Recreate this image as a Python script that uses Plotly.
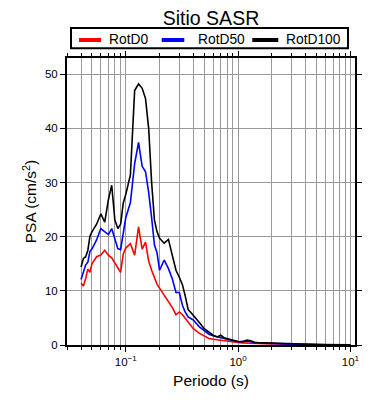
import plotly.graph_objects as go

periods = [0.04, 0.042, 0.044, 0.046, 0.048, 0.05, 0.055, 0.06, 0.065, 0.07, 0.075, 0.08, 0.085,
           0.09, 0.095, 0.1, 0.11, 0.12, 0.13, 0.14, 0.15, 0.16, 0.17, 0.18, 0.19, 0.2, 0.22,
           0.24, 0.26, 0.28, 0.3, 0.32, 0.34, 0.36, 0.38, 0.4, 0.45, 0.5, 0.55, 0.6, 0.65, 0.7,
           0.75, 0.8, 0.9, 1.0, 1.1, 1.2, 1.3, 1.4, 1.5, 1.7, 2.0, 2.5, 3.0, 3.5, 4.0, 5.0, 6.0,
           7.0, 8.0, 9.0, 10.0]

rotd0 = [11.4, 10.9, 12.3, 14.0, 13.4, 15.0, 16.3, 16.6, 17.5, 16.6, 16.1, 15.1, 14.4,
         13.4, 16.8, 17.9, 18.7, 16.6, 21.8, 17.7, 19.0, 15.5, 13.8, 12.5, 11.2, 10.5, 9.2,
         8.0, 6.9, 5.6, 6.1, 5.6, 4.9, 4.3, 3.5, 3.0, 2.2, 1.6, 1.2, 1.05, 0.95, 0.9,
         0.75, 0.65, 0.55, 0.45, 0.4, 0.4, 0.35, 0.3, 0.28, 0.24, 0.2, 0.15, 0.12, 0.1, 0.08, 0.05, 0.04,
         0.03, 0.025, 0.02, 0.02]

rotd50 = [12.1, 13.5, 14.8, 15.3, 17.3, 17.7, 19.4, 21.5, 20.9, 20.4, 21.5, 19.7, 17.8,
          17.6, 20.9, 23.5, 26.3, 33.5, 37.4, 33.0, 32.0, 28.2, 23.5, 18.5, 17.0, 13.8, 15.7,
          14.1, 12.2, 9.7, 9.7, 7.3, 6.0, 5.2, 4.9, 4.6, 3.4, 2.6, 2.0, 1.7, 1.5, 1.35,
          1.2, 1.05, 0.8, 0.6, 0.65, 0.75, 0.6, 0.4, 0.38, 0.32, 0.28, 0.2, 0.16, 0.12, 0.1, 0.07, 0.05,
          0.04, 0.03, 0.03, 0.02]

rotd100 = [14.4, 16.0, 16.3, 17.5, 20.1, 20.9, 22.3, 24.2, 22.7, 26.8, 29.5, 23.1, 21.5,
           22.3, 26.2, 27.8, 31.4, 47.0, 48.2, 47.4, 45.5, 40.0, 30.0, 23.1, 20.9, 19.7, 18.8,
           19.5, 16.5, 13.8, 12.5, 11.1, 8.9, 6.5, 6.0, 5.5, 4.2, 3.0, 2.4, 1.8, 1.5, 1.8,
           1.35, 1.2, 0.9, 0.65, 0.6, 0.9, 0.8, 0.5, 0.45, 0.4, 0.35, 0.25, 0.2, 0.15, 0.12, 0.08, 0.06,
           0.05, 0.04, 0.03, 0.03]

series_names = ["RotD0", "RotD50", "RotD100"]
series_values = [rotd0, rotd50, rotd100]
series_colors = ["#ff0000", "#0000ff", "#000000"]

x_major = [0.1, 1, 10]
x_major_text = ["10<sup>\u22121</sup>", "10<sup>0</sup>", "10<sup>1</sup>"]
x_minor = [m * d for d in [0.01, 0.1, 1] for m in range(2, 10)] + [20]
y_ticks = [0, 10, 20, 30, 40, 50]

FONT = "Liberation Sans, Arial, sans-serif"

fig = go.Figure()
for name, vals, col in zip(series_names, series_values, series_colors):
    fig.add_trace(go.Scatter(x=periods, y=vals, mode="lines", name=name, showlegend=False,
                             line=dict(color=col, width=1.6)))

# ---- legend box drawn above the plot (paper coordinates of the plot area) ----
PW, PH = 288.0, 287.0          # plot area size in px
def px_x(dx):                   # dx: px from plot left edge
    return dx / PW
def px_y(dy):                   # dy: px above plot top edge
    return 1 + dy / PH

leg_top, leg_bot = 30.0, 9.7    # px above plot top
leg_mid = 19.0
fig.add_shape(type="rect", xref="paper", yref="paper",
              x0=px_x(4), x1=px_x(281), y0=px_y(leg_bot), y1=px_y(leg_top),
              line=dict(color="black", width=2), fillcolor="white", layer="above")
line_starts = [12, 94.7, 185.3]
line_lens = [22, 22.6, 26]
text_starts = [39.7, 129, 217]
for name, col, ls, ll, ts in zip(series_names, series_colors, line_starts, line_lens, text_starts):
    fig.add_shape(type="line", xref="paper", yref="paper",
                  x0=px_x(ls), x1=px_x(ls + ll), y0=px_y(leg_mid - 1), y1=px_y(leg_mid - 1),
                  line=dict(color=col, width=4), layer="above")
    fig.add_annotation(text=name, xref="paper", yref="paper", x=px_x(ts), y=px_y(leg_mid),
                       xanchor="left", yanchor="middle", showarrow=False,
                       font=dict(size=13.8, family=FONT, color="black"))

grid = "#9a9a9a"
# the page body adds an 8 px offset, so margins are shifted accordingly
fig.update_layout(
    width=390, height=400,
    margin=dict(l=59, r=43, t=50, b=63, autoexpand=False),
    paper_bgcolor="white", plot_bgcolor="white",
    font=dict(family=FONT, color="black", size=11),
    title=dict(text="Sitio SASR", x=0.5205, xanchor="center", xref="container",
               y=0.974, yanchor="middle", yref="container",
               font=dict(size=19.5, family=FONT, color="black")),
    showlegend=False,
    xaxis=dict(type="log", range=[-1.523, 1.041], tickvals=x_major, ticktext=x_major_text,
               automargin=True,
               showgrid=True, gridcolor=grid, gridwidth=1,
               ticks="outside", ticklen=5, tickcolor="black",
               showline=True, linecolor="black", linewidth=2, mirror="allticks",
               minor=dict(tickvals=x_minor, ticks="outside", ticklen=3, tickcolor="black",
                          showgrid=True, gridcolor=grid, gridwidth=1),
               tickfont=dict(size=11.5),
               title=dict(text="Periodo (s)", font=dict(size=15.5), standoff=8),
               zeroline=False),
    yaxis=dict(range=[0, 53], tickvals=y_ticks, automargin=True,
               showgrid=True, gridcolor=grid, gridwidth=1,
               ticks="outside", ticklen=5, tickcolor="black",
               showline=True, linecolor="black", linewidth=2, mirror="allticks",
               tickfont=dict(size=11.5),
               title=dict(text="PSA (cm/s<sup>2</sup>)", font=dict(size=15.5), standoff=4),
               zeroline=False),
)

fig.write_html("out.html")
